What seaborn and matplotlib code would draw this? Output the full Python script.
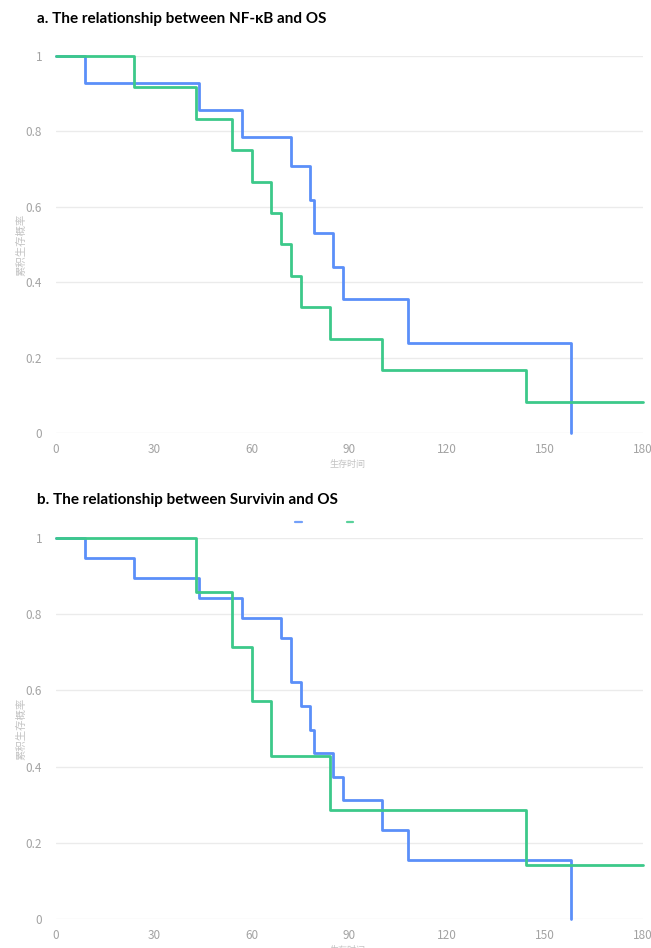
import matplotlib
matplotlib.use("Agg")
import matplotlib.pyplot as plt
import seaborn as sns
import pandas as pd
from matplotlib.lines import Line2D

sns.set_theme(style="white")
plt.rcParams['font.family'] = ['Noto Sans CJK SC', 'DejaVu Sans']

# ---- data ----
titles = ["a. The relationship between NF-κB and OS",
          "b. The relationship between Survivin and OS"]

a_blue_t = [0, 9, 44, 57, 72, 78, 79, 85, 88, 108, 158]
a_blue_s = [1, 0.929, 0.857, 0.786, 0.708, 0.619, 0.531, 0.441, 0.355, 0.238, 0.0]
a_green_t = [0, 24, 43, 54, 60, 66, 69, 72, 75, 84, 100, 144, 180]
a_green_s = [1, 0.917, 0.833, 0.75, 0.667, 0.583, 0.5, 0.417, 0.333, 0.25, 0.167, 0.083, 0.083]

b_blue_t = [0, 9, 24, 44, 57, 69, 72, 75, 78, 79, 85, 88, 100, 108, 158]
b_blue_s = [1, 0.947, 0.895, 0.842, 0.789, 0.737, 0.621, 0.56, 0.496, 0.435, 0.372, 0.312, 0.234, 0.155, 0.0]
b_green_t = [0, 43, 54, 60, 66, 84, 144, 180]
b_green_s = [1, 0.857, 0.714, 0.571, 0.429, 0.286, 0.143, 0.143]

x_ticks = [0, 30, 60, 90, 120, 150, 180]
y_ticks = [0, 0.2, 0.4, 0.6, 0.8, 1]
y_ticklabels = ["0", "0.2", "0.4", "0.6", "0.8", "1"]
x_label = "生存时间"
y_label = "累积生存概率"

BLUE = "#5B8FF9"
GREEN = "#3CC98A"

fig = plt.figure(figsize=(6.51, 9.48), dpi=100)
axA = fig.add_axes([56/651, 1-433/948, 587/651, 377/948])
axB = fig.add_axes([56/651, 1-919/948, 587/651, 381/948])

panels = [
    (axA, a_blue_t, a_blue_s, a_green_t, a_green_s, 465, 19, 56, 433),
    (axB, b_blue_t, b_blue_s, b_green_t, b_green_s, 951, 500, 538, 919),
]

for i, (ax, bt, bs, gt, gs, xl_y, title_y, top_px, bot_px) in enumerate(panels):
    df_b = pd.DataFrame({"t": bt, "s": bs})
    df_g = pd.DataFrame({"t": gt, "s": gs})
    sns.lineplot(data=df_b, x="t", y="s", ax=ax, color=BLUE, lw=2.0,
                 drawstyle="steps-post", estimator=None, sort=False, clip_on=False, zorder=3)
    sns.lineplot(data=df_g, x="t", y="s", ax=ax, color=GREEN, lw=2.0,
                 drawstyle="steps-post", estimator=None, sort=False, clip_on=False, zorder=3)
    ax.set_xlim(0, 180)
    ax.set_ylim(0, 1)
    ax.set_xticks(x_ticks)
    ax.set_yticks(y_ticks)
    ax.set_yticklabels(y_ticklabels)
    ax.set_xticklabels([str(v) for v in x_ticks])
    for s in ax.spines.values():
        s.set_visible(False)
    ax.grid(axis="y", color="#ebebeb", lw=1.0)
    ax.grid(axis="x", visible=False)
    ax.set_axisbelow(True)
    ax.tick_params(axis="y", labelsize=8.5, length=0, pad=10)
    ax.tick_params(axis="x", labelsize=8.5, length=0, pad=7)
    for lab in ax.get_xticklabels() + ax.get_yticklabels():
        lab.set_color("#a3a3a3")
    ax.set_xlabel("")
    ax.set_ylabel("")
    # tiny axis titles
    fig.text(348/651, 1-xl_y/948, x_label, fontsize=6.5, color="#c2c2c2",
             ha="center", va="center")
    fig.text(21/651, 1-(0.5*(top_px + bot_px))/948,
             y_label, fontsize=7.5, color="#c2c2c2", rotation=90, ha="center", va="center")
    fig.text(37/651, 1-title_y/948, titles[i], fontsize=11, fontweight="bold",
             color="black", ha="left", va="center", family=["Lato", "DejaVu Sans"])

# small legend markers seen above panel b
handles = [Line2D([], [], color=BLUE, lw=1.6, alpha=0.85),
           Line2D([], [], color=GREEN, lw=1.6, alpha=0.85)]
fig.legend(handles, ["", ""], loc="center", bbox_to_anchor=(326/651, 1-523/948),
           ncol=2, frameon=False, handlelength=0.45, columnspacing=2.7, handletextpad=0.2)

fig.savefig("out.png", dpi=100)
